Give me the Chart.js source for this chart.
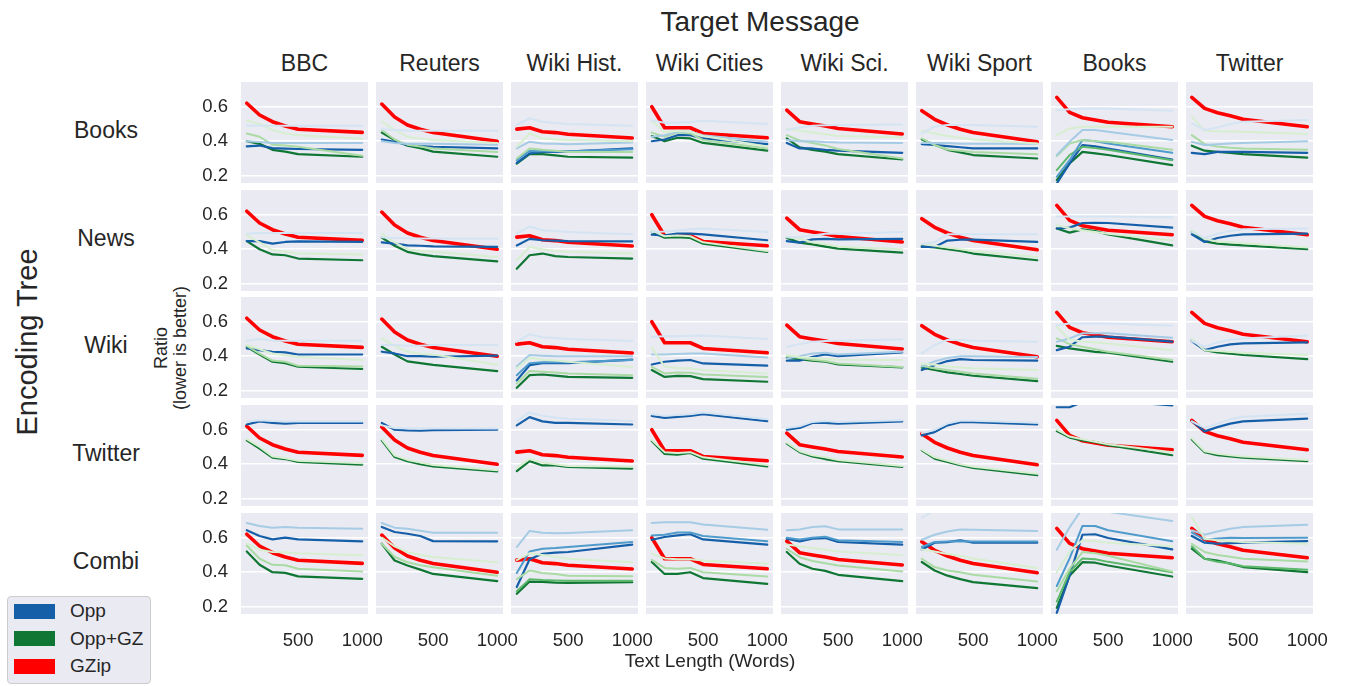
<!DOCTYPE html>
<html>
<head>
<meta charset="utf-8">
<script src="https://cdn.jsdelivr.net/npm/chart.js@4"></script>
<style>
  body { margin: 0; background: #fff; font-family: 'Liberation Sans', Arial, sans-serif; color: #262626; }
  #wrap { position: relative; width: 1345px; height: 686px; overflow: hidden; }
  canvas { position: absolute; }
  .t { position: absolute; white-space: nowrap; transform: translate(-50%, -50%); }
  .rot { transform: translate(-50%, -50%) rotate(-90deg); }
  #legend { position: absolute; left: 7px; top: 596px; width: 142px; height: 86px; background: #eaeaf2;
            border: 1.5px solid #cccccc; border-radius: 4px; }
  .lg { position: absolute; left: 6px; width: 41px; height: 15px; }
  .lt { position: absolute; left: 62px; font-size: 19px; transform: translateY(-50%); }
</style>
</head>
<body>
<div id="wrap"></div>
<script>
// x positions (words) and tick labels
let xs = [100, 200, 300, 400, 500, 1000];
let xTicks = [500, 1000];
let yTicks = [0.2, 0.4, 0.6];
let targets = ['BBC', 'Reuters', 'Wiki Hist.', 'Wiki Cities', 'Wiki Sci.', 'Wiki Sport', 'Books', 'Twitter'];
let trees = ['Books', 'News', 'Wiki', 'Twitter', 'Combi'];

// GZip does not depend on the encoding tree: one line per target column
let gzip = [
  [0.62, 0.552, 0.513, 0.488, 0.469, 0.451],
  [0.615, 0.54, 0.494, 0.469, 0.45, 0.40],
  [0.47, 0.478, 0.455, 0.45, 0.44, 0.419],
  [0.60, 0.478, 0.478, 0.478, 0.445, 0.42],
  [0.58, 0.513, 0.50, 0.488, 0.474, 0.442],
  [0.577, 0.527, 0.494, 0.469, 0.45, 0.397],
  [0.654, 0.567, 0.536, 0.523, 0.51, 0.484],
  [0.654, 0.59, 0.565, 0.548, 0.527, 0.484]
];

// Opp, main variant [tree][target]
let oppDark = [
  [[0.37,0.375,0.36,0.357,0.355,0.35],[0.41,0.397,0.378,0.372,0.368,0.358],[0.275,0.33,0.338,0.338,0.34,0.358],[0.40,0.41,0.435,0.435,0.416,0.383],[0.39,0.358,0.358,0.35,0.345,0.333],[0.383,0.378,0.372,0.365,0.358,0.358],[0.155,0.271,0.378,0.37,0.358,0.294],[0.333,0.325,0.338,0.338,0.338,0.333]],
  [[0.447,0.447,0.432,0.442,0.445,0.442],[0.44,0.432,0.422,0.42,0.417,0.414],[0.422,0.46,0.452,0.45,0.447,0.445],[0.484,0.48,0.49,0.49,0.486,0.452],[0.447,0.438,0.457,0.46,0.457,0.46],[0.413,0.413,0.45,0.455,0.455,0.442],[0.52,0.525,0.552,0.553,0.552,0.525],[0.486,0.442,0.465,0.478,0.486,0.49]],
  [[0.445,0.435,0.426,0.422,0.41,0.41],[0.426,0.416,0.40,0.40,0.397,0.404],[0.26,0.348,0.36,0.36,0.36,0.38],[0.352,0.368,0.374,0.378,0.358,0.345],[0.374,0.374,0.397,0.41,0.40,0.422],[0.32,0.348,0.372,0.383,0.378,0.374],[0.435,0.455,0.51,0.513,0.513,0.484],[0.488,0.435,0.455,0.469,0.474,0.48]],
  [[0.63,0.648,0.639,0.635,0.639,0.639],[0.639,0.60,0.596,0.594,0.598,0.60],[0.625,0.673,0.648,0.64,0.639,0.63],[0.68,0.668,0.674,0.68,0.69,0.65],[0.60,0.61,0.639,0.64,0.635,0.648],[0.567,0.586,0.625,0.644,0.644,0.63],[0.73,0.73,0.76,0.77,0.77,0.74],[0.65,0.59,0.615,0.635,0.648,0.664]],
  [[0.643,0.61,0.59,0.60,0.59,0.579],[0.662,0.633,0.623,0.61,0.58,0.579],[0.314,0.475,0.507,0.513,0.517,0.56],[0.588,0.604,0.613,0.62,0.59,0.56],[0.594,0.579,0.594,0.598,0.575,0.56],[0.532,0.571,0.574,0.585,0.571,0.571],[0.165,0.38,0.617,0.62,0.598,0.532],[0.61,0.571,0.565,0.568,0.571,0.58]]
];
let oppMid = [
  [null,null,[0.29,0.344,0.342,0.342,0.342,0.354],null,null,null,[0.194,0.29,0.407,0.40,0.387,0.333],null],
  [null,null,null,null,null,null,null,null],
  [null,null,[0.29,0.36,0.365,0.365,0.365,0.378],null,null,null,null,null],
  [null,null,null,null,null,null,null,null],
  [null,null,[0.396,0.52,0.536,0.54,0.546,0.575],[0.613,0.617,0.63,0.63,0.61,0.579],[0.60,0.59,0.60,0.605,0.585,0.575],[0.546,0.575,0.578,0.58,0.578,0.578],[0.32,0.48,0.668,0.668,0.643,0.58],[0.63,0.59,0.595,0.60,0.598,0.60]]
];
let oppLight = [
  [[0.40,0.395,0.39,0.39,0.39,0.39],[0.40,0.39,0.385,0.385,0.385,0.38],[0.358,0.397,0.387,0.385,0.383,0.392],[0.426,0.435,0.455,0.455,0.435,0.397],[0.407,0.40,0.40,0.395,0.392,0.39],[0.39,0.39,0.39,0.385,0.385,0.385],[0.32,0.397,0.465,0.465,0.455,0.407],[0.397,0.378,0.383,0.387,0.39,0.40]],
  [null,null,null,null,null,null,null,null],
  [null,null,[0.342,0.407,0.403,0.40,0.40,0.40],[0.41,0.41,0.413,0.416,0.416,0.392],[0.387,0.40,0.416,0.42,0.41,0.426],[0.34,0.37,0.39,0.40,0.40,0.395],[0.484,0.503,0.533,0.533,0.533,0.507],null],
  [null,null,null,null,null,null,null,null],
  [[0.685,0.668,0.658,0.662,0.658,0.652],[0.685,0.658,0.652,0.64,0.629,0.629],[0.546,0.639,0.629,0.625,0.627,0.643],[0.685,0.69,0.69,0.69,0.677,0.646],[0.643,0.648,0.662,0.666,0.648,0.648],[0.588,0.617,0.636,0.648,0.646,0.639],[0.53,0.66,0.77,0.765,0.75,0.697],[0.643,0.617,0.636,0.652,0.662,0.675]]
];
let oppPale = [
  [[0.49,0.49,0.49,0.49,0.49,0.49],[0.47,0.465,0.46,0.46,0.46,0.46],[0.494,0.533,0.513,0.505,0.50,0.49],[0.52,0.507,0.507,0.512,0.519,0.50],[0.465,0.48,0.49,0.492,0.494,0.497],[0.445,0.484,0.494,0.494,0.494,0.484],[0.58,0.585,0.59,0.59,0.59,0.577],[0.503,0.465,0.48,0.50,0.513,0.523]],
  [[0.49,0.494,0.494,0.494,0.494,0.494],[0.47,0.465,0.463,0.462,0.462,0.46],[0.49,0.532,0.51,0.505,0.50,0.486],[0.50,0.503,0.508,0.515,0.52,0.50],[0.47,0.47,0.48,0.49,0.49,0.50],[0.43,0.44,0.486,0.486,0.486,0.486],[0.59,0.59,0.59,0.59,0.59,0.585],[0.50,0.465,0.49,0.505,0.515,0.52]],
  [[0.49,0.50,0.49,0.49,0.49,0.49],[0.465,0.465,0.46,0.46,0.465,0.465],[0.484,0.527,0.51,0.505,0.50,0.488],[0.513,0.515,0.515,0.518,0.52,0.50],[0.455,0.47,0.484,0.488,0.49,0.497],[0.416,0.465,0.494,0.494,0.49,0.484],[0.58,0.59,0.59,0.59,0.59,0.577],[0.488,0.455,0.48,0.495,0.503,0.52]],
  [[0.648,0.655,0.65,0.648,0.648,0.648],[0.625,0.61,0.607,0.607,0.607,0.607],[0.65,0.70,0.68,0.67,0.664,0.65],[0.69,0.68,0.685,0.69,0.70,0.66],[0.61,0.62,0.645,0.65,0.645,0.655],[0.58,0.60,0.635,0.652,0.652,0.64],[0.76,0.77,0.78,0.78,0.78,0.77],[0.648,0.61,0.635,0.66,0.675,0.693]],
  [null,null,null,null,null,[0.715,0.76,0.77,0.77,0.77,0.76],null,null]
];

// Opp+GZ variants [tree][target]
let gzDark = [
  [[0.40,0.385,0.35,0.34,0.325,0.31],[0.45,0.407,0.374,0.36,0.34,0.31],[0.27,0.325,0.325,0.318,0.31,0.305],[0.43,0.40,0.42,0.416,0.39,0.345],[0.416,0.364,0.35,0.34,0.325,0.294],[0.41,0.38,0.35,0.335,0.32,0.30],[0.175,0.271,0.338,0.33,0.32,0.262],[0.374,0.345,0.338,0.332,0.325,0.305]],
  [[0.447,0.40,0.37,0.365,0.346,0.336],[0.467,0.42,0.385,0.37,0.36,0.33],[0.287,0.365,0.375,0.36,0.355,0.346],[0.50,0.467,0.47,0.465,0.432,0.384],[0.465,0.438,0.428,0.415,0.403,0.38],[0.417,0.41,0.40,0.39,0.375,0.336],[0.52,0.496,0.515,0.505,0.486,0.422],[0.50,0.445,0.432,0.427,0.422,0.40]],
  [[0.455,0.41,0.368,0.36,0.339,0.326],[0.455,0.41,0.37,0.36,0.35,0.314],[0.217,0.29,0.294,0.288,0.28,0.275],[0.32,0.28,0.286,0.285,0.267,0.252],[0.39,0.383,0.374,0.368,0.352,0.335],[0.333,0.32,0.306,0.297,0.287,0.256],[0.46,0.445,0.435,0.425,0.42,0.368],[0.494,0.435,0.422,0.415,0.407,0.383]],
  [[0.538,0.49,0.438,0.43,0.413,0.398],[0.538,0.442,0.418,0.40,0.387,0.358],[0.36,0.418,0.393,0.393,0.384,0.375],[0.534,0.46,0.456,0.465,0.432,0.388],[0.52,0.47,0.445,0.43,0.418,0.384],[0.48,0.432,0.413,0.395,0.378,0.336],[0.592,0.554,0.538,0.528,0.51,0.452],[0.544,0.47,0.452,0.445,0.438,0.418]],
  [[0.52,0.443,0.40,0.396,0.376,0.362],[0.565,0.468,0.439,0.415,0.39,0.348],[0.275,0.346,0.344,0.34,0.338,0.342],[0.459,0.39,0.39,0.40,0.366,0.333],[0.517,0.449,0.42,0.408,0.385,0.348],[0.459,0.41,0.38,0.36,0.343,0.308],[0.194,0.38,0.458,0.455,0.439,0.375],[0.536,0.478,0.468,0.45,0.43,0.40]]
];
let gzMid = [
  [null,null,null,null,null,null,[0.233,0.32,0.368,0.36,0.35,0.29],null],
  [null,null,null,null,null,null,null,null],
  [null,null,null,null,null,null,null,null],
  [null,null,null,null,null,null,null,null],
  [null,null,[0.29,0.36,0.355,0.352,0.35,0.35],null,null,null,[0.23,0.40,0.48,0.475,0.46,0.40],[0.55,0.478,0.46,0.45,0.435,0.415]]
];
let gzLight = [
  [[0.445,0.426,0.38,0.375,0.368,0.316],[0.465,0.41,0.38,0.37,0.358,0.337],[0.30,0.358,0.35,0.345,0.338,0.338],[0.45,0.426,0.45,0.445,0.407,0.358],[0.435,0.405,0.39,0.375,0.355,0.30],[0.416,0.378,0.352,0.345,0.338,0.325],[0.314,0.387,0.407,0.40,0.397,0.35],[0.435,0.383,0.37,0.362,0.358,0.35]],
  [null,null,null,null,null,null,null,null],
  [[0.46,0.415,0.375,0.368,0.345,0.34],null,[0.242,0.314,0.31,0.305,0.30,0.29],[0.338,0.30,0.305,0.304,0.294,0.28],[0.403,0.39,0.38,0.372,0.358,0.338],[0.345,0.33,0.32,0.31,0.30,0.27],[0.503,0.47,0.455,0.44,0.426,0.378],null],
  [null,null,null,null,null,null,null,null],
  [[0.555,0.478,0.443,0.44,0.42,0.404],[0.565,0.488,0.458,0.44,0.429,0.38],[0.36,0.41,0.395,0.39,0.38,0.377],[0.472,0.425,0.42,0.425,0.40,0.375],[0.536,0.487,0.465,0.452,0.439,0.404],[0.478,0.43,0.41,0.40,0.385,0.346],[0.29,0.42,0.517,0.51,0.495,0.404],[0.565,0.517,0.50,0.49,0.478,0.462]]
];
let gzPale = [
  [[0.52,0.50,0.465,0.445,0.435,0.415],[0.513,0.465,0.426,0.415,0.407,0.39],[0.368,0.445,0.416,0.41,0.407,0.40],[0.52,0.45,0.46,0.455,0.43,0.37],[0.474,0.46,0.45,0.44,0.43,0.422],[0.46,0.445,0.43,0.42,0.41,0.387],[0.435,0.474,0.484,0.484,0.484,0.484],[0.542,0.46,0.458,0.457,0.455,0.442]],
  [[0.48,0.44,0.395,0.385,0.375,0.37],[0.49,0.44,0.40,0.39,0.385,0.355],[0.336,0.413,0.40,0.39,0.385,0.375],[0.51,0.475,0.48,0.475,0.44,0.39],[0.47,0.46,0.44,0.43,0.415,0.40],[0.432,0.42,0.41,0.40,0.39,0.355],[0.54,0.52,0.51,0.50,0.49,0.45],[0.51,0.46,0.445,0.44,0.435,0.41]],
  [[0.465,0.44,0.416,0.405,0.397,0.378],[0.503,0.46,0.426,0.415,0.41,0.35],[0.33,0.39,0.38,0.375,0.368,0.338],[0.45,0.34,0.33,0.33,0.32,0.30],[0.407,0.395,0.39,0.385,0.38,0.378],[0.358,0.35,0.34,0.335,0.33,0.32],[0.571,0.494,0.485,0.48,0.474,0.435],[0.50,0.435,0.43,0.425,0.42,0.407]],
  [[0.545,0.50,0.445,0.435,0.42,0.405],[0.545,0.45,0.425,0.41,0.395,0.365],[0.38,0.43,0.41,0.40,0.39,0.385],[0.54,0.47,0.465,0.47,0.44,0.395],[0.525,0.475,0.452,0.44,0.425,0.39],[0.485,0.44,0.42,0.40,0.385,0.345],[0.60,0.56,0.545,0.53,0.515,0.47],[0.55,0.475,0.46,0.452,0.445,0.425]],
  [[0.565,0.53,0.517,0.515,0.51,0.498],[0.60,0.55,0.517,0.50,0.488,0.458],[0.47,0.51,0.50,0.49,0.478,0.458],[0.507,0.48,0.475,0.475,0.468,0.449],[0.56,0.55,0.54,0.53,0.52,0.50],[0.532,0.52,0.505,0.495,0.48,0.425],[0.40,0.52,0.585,0.58,0.57,0.55],[0.72,0.594,0.585,0.58,0.575,0.565]]
];

// drawing order: pale first, red GZip last
let layers = [
  [oppPale, '#d4e4f3', 2], [gzPale, '#d7efd0', 2],
  [oppLight, '#a6cbe4', 2], [gzLight, '#abdba4', 2],
  [oppMid, '#4f9bcb', 2], [gzMid, '#5cb86b', 2],
  [oppDark, '#155ea8', 2.2], [gzDark, '#0f7633', 2.2]
];

Chart.defaults.font.family = "'Liberation Sans', Arial, sans-serif";
Chart.defaults.font.size = 18.5;
Chart.defaults.color = '#262626';

let panelBg = {
  id: 'panelBg',
  beforeDraw(chart) {
    let a = chart.chartArea, ctx = chart.ctx;
    ctx.save();
    ctx.fillStyle = '#eaeaf2';
    ctx.fillRect(a.left, a.top, a.right - a.left, a.bottom - a.top);
    ctx.restore();
  }
};

let wrap = document.getElementById('wrap');
let colX = 241, colStep = 135, panelW = 127;
let rowY = 82, rowStep = 107.7, panelH = 101;
let yAxisW = 50, xAxisH = 36, labelRoom = 24;

function pts(vals) {
  return vals.map((v, i) => ({ x: xs[i], y: v }));
}

for (let r = 0; r < trees.length; r++) {
  for (let c = 0; c < targets.length; c++) {
    let left = c === 0, bottom = r === trees.length - 1;
    let cv = document.createElement('canvas');
    let w = panelW + (left ? yAxisW : 0) + (bottom ? labelRoom : 0);
    let h = panelH + (bottom ? xAxisH : 0);
    cv.width = w; cv.height = h;
    cv.style.width = w + 'px'; cv.style.height = h + 'px';
    cv.style.left = (colX + c * colStep - (left ? yAxisW : 0)) + 'px';
    cv.style.top = Math.round(rowY + r * rowStep) + 'px';
    wrap.appendChild(cv);

    let datasets = [];
    layers.forEach(([arr, color, lw]) => {
      let vals = arr[r][c];
      if (!vals) return;
      datasets.push({ data: pts(vals), borderColor: color, borderWidth: lw });
    });
    datasets.push({ data: pts(gzip[c]), borderColor: '#ff0000', borderWidth: 3.6 });

    new Chart(cv, {
      type: 'line',
      data: { datasets: datasets },
      plugins: [panelBg],
      options: {
        responsive: false,
        animation: false,
        devicePixelRatio: 1,
        layout: { padding: { left: 0, top: 0, bottom: 0, right: bottom ? labelRoom : 0 } },
        datasets: { line: { pointRadius: 0, tension: 0, clip: 0, borderCapStyle: 'round', borderJoinStyle: 'round' } },
        plugins: { legend: { display: false }, tooltip: { enabled: false } },
        scales: {
          x: {
            type: 'linear', min: 55, max: 1045,
            afterBuildTicks: s => { s.ticks = xTicks.map(v => ({ value: v })); },
            afterFit: s => { s.height = bottom ? xAxisH : 0; s.paddingLeft = 0; s.paddingRight = 0; },
            ticks: { display: bottom, padding: 8, maxRotation: 0, callback: v => String(v) },
            grid: { display: false },
            border: { display: false }
          },
          y: {
            min: 0.158, max: 0.743,
            afterBuildTicks: s => { s.ticks = yTicks.map(v => ({ value: v })); },
            afterFit: s => { s.width = left ? yAxisW : 0; s.paddingTop = 0; s.paddingBottom = 0; },
            ticks: { display: left, padding: 13, callback: v => v.toFixed(1) },
            grid: { color: '#ffffff', lineWidth: 1.5, drawTicks: false },
            border: { display: false }
          }
        }
      }
    });
  }
}

function addText(txt, x, y, size, rot) {
  let d = document.createElement('div');
  d.className = 't' + (rot ? ' rot' : '');
  d.style.left = x + 'px'; d.style.top = y + 'px';
  d.style.fontSize = size + 'px';
  d.innerHTML = txt;
  wrap.appendChild(d);
}

addText('Target Message', 760, 22, 28);
targets.forEach((t, c) => addText(t, colX + c * colStep + panelW / 2, 63, 23));
trees.forEach((t, r) => addText(t, 106, rowY + r * rowStep + 48, 23));
addText('Encoding Tree', 27, 342, 29, true);
addText('Ratio', 161, 348, 18, true);
addText('(lower is better)', 180, 348, 18, true);
addText('Text Length (Words)', 710, 661, 19);

// legend
let lg = document.createElement('div');
lg.id = 'legend';
let legendItems = [['Opp', '#155ea8'], ['Opp+GZ', '#0f7633'], ['GZip', '#ff0000']];
legendItems.forEach(([name, color], i) => {
  let cy = 14 + i * 27.5;
  let sw = document.createElement('div');
  sw.className = 'lg';
  sw.style.top = (cy - 7.5) + 'px';
  sw.style.background = color;
  lg.appendChild(sw);
  let tx = document.createElement('div');
  tx.className = 'lt';
  tx.style.top = cy + 'px';
  tx.textContent = name;
  lg.appendChild(tx);
});
wrap.appendChild(lg);
</script>
</body>
</html>
